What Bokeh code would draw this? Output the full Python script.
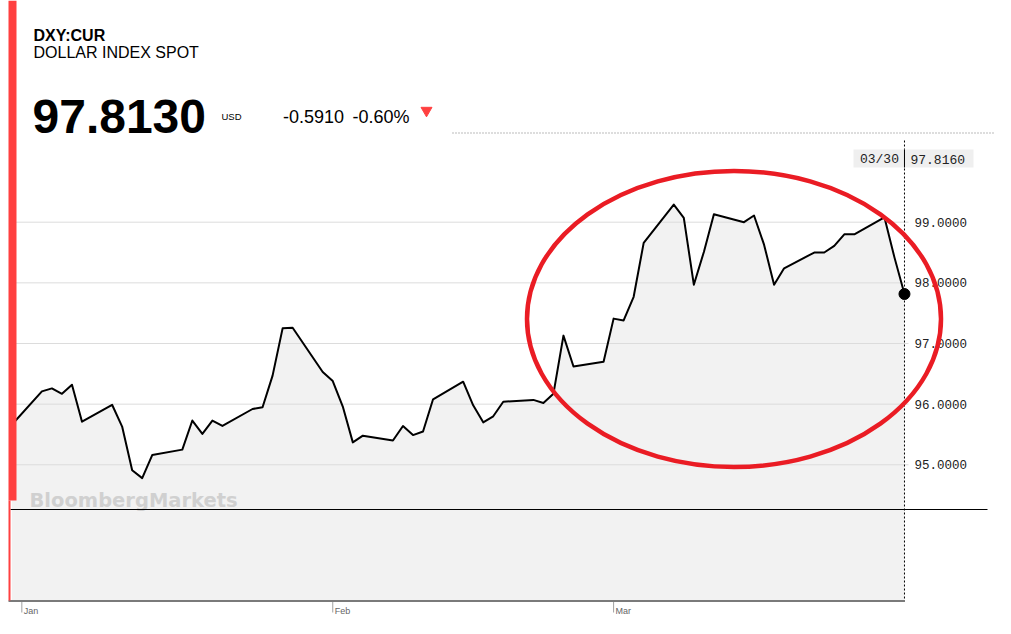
import numpy as np
import pandas as pd
from bokeh.plotting import figure
from bokeh.models import Range1d
from bokeh.core.properties import value
from bokeh.embed import file_html
from bokeh.resources import INLINE

# ---------------- data ----------------
DATES = [
    "2021-12-31",
    "2022-01-03", "2022-01-04", "2022-01-05", "2022-01-06", "2022-01-07",
    "2022-01-10", "2022-01-11", "2022-01-12", "2022-01-13", "2022-01-14",
    "2022-01-17", "2022-01-18", "2022-01-19", "2022-01-20", "2022-01-21",
    "2022-01-24", "2022-01-25", "2022-01-26", "2022-01-27", "2022-01-28",
    "2022-01-31", "2022-02-01", "2022-02-02", "2022-02-03", "2022-02-04",
    "2022-02-07", "2022-02-08", "2022-02-09", "2022-02-10", "2022-02-11",
    "2022-02-14", "2022-02-15", "2022-02-16", "2022-02-17", "2022-02-18",
    "2022-02-21", "2022-02-22", "2022-02-23", "2022-02-24", "2022-02-25",
    "2022-02-28", "2022-03-01", "2022-03-02", "2022-03-03", "2022-03-04",
    "2022-03-07", "2022-03-08", "2022-03-09", "2022-03-10", "2022-03-11",
    "2022-03-14", "2022-03-15", "2022-03-16", "2022-03-17", "2022-03-18",
    "2022-03-21", "2022-03-22", "2022-03-23", "2022-03-24", "2022-03-25",
    "2022-03-28", "2022-03-29", "2022-03-30",
]
VALUES = [
    95.66,
    96.21, 96.26, 96.17, 96.32, 95.71,
    95.99, 95.63, 94.91, 94.78, 95.16,
    95.25, 95.73, 95.51, 95.73, 95.64,
    95.92, 95.95, 96.47, 97.25, 97.26,
    96.53, 96.38, 95.96, 95.37, 95.48,
    95.40, 95.64, 95.49, 95.55, 96.08,
    96.37, 95.98, 95.70, 95.80, 96.04,
    96.07, 96.02, 96.17, 97.13, 96.62,
    96.70, 97.41, 97.38, 97.77, 98.66,
    99.29, 99.07, 97.97, 98.51, 99.13,
    99.00, 99.11, 98.63, 97.97, 98.24,
    98.50, 98.50, 98.61, 98.80, 98.80,
    99.08, 98.42, 97.816,
]
Y_TICKS = [95, 96, 97, 98, 99]
MONTH_TICKS = ["2022-01-01", "2022-02-01", "2022-03-01"]
MONTH_LABELS = ["Jan", "Feb", "Mar"]

SYMBOL = "DXY:CUR"
NAME = "DOLLAR INDEX SPOT"
PRICE = "97.8130"
CURRENCY = "USD"
CHANGE = "-0.5910"
CHANGE_PCT = "-0.60%"
WATERMARK = "BloombergMarkets"

# ---------------- layout (page pixels; canvas origin at page 0,0) ----------------
W, H = 995, 618
DAY_MS = 86400000.0
EPOCH = pd.Timestamp("1970-01-01")
ORIGIN = pd.Timestamp("2021-12-31")
ORIGIN_MS = (ORIGIN - EPOCH) / pd.Timedelta(milliseconds=1)
X0_PX, PX_PER_DAY = 11.3, 10.03
REF_VAL, REF_PX, PX_PER_UNIT = 99.0, 221.7, 60.65


def X(px):
    return ORIGIN_MS + (px - X0_PX) / PX_PER_DAY * DAY_MS


def Y(py):
    return REF_VAL - (py - REF_PX) / PX_PER_UNIT


def DX(px):
    return px / PX_PER_DAY * DAY_MS


def to_ms(dates):
    return list((pd.to_datetime(dates) - EPOCH) / pd.Timedelta(milliseconds=1))


xs = to_ms(DATES)
mts = to_ms(MONTH_TICKS)
x_last = xs[-1]
v_last = VALUES[-1]

RED = "#ff4040"
SANS = value("Liberation Sans")
MONO = value("Liberation Mono")

p = figure(
    width=W, height=H,
    x_range=Range1d(X(0), X(W)), y_range=Range1d(Y(H), Y(0)),
    output_backend="svg", toolbar_location=None, min_border=0,
    x_axis_type=None, y_axis_type=None, outline_line_color=None,
    background_fill_color="white", border_fill_color="white",
)

# area under the line
p.varea(x=xs, y1=Y(600.5), y2=VALUES, fill_color="#f2f2f2")

# gridlines
p.segment(x0=X(10), x1=X(908), y0=Y_TICKS, y1=Y_TICKS, line_color="#dcdcdc", line_width=1)

# watermark
p.text(x=[X(29)], y=[Y(500)], text=[WATERMARK], text_font=value("DejaVu Sans"),
       text_font_style="bold", text_font_size="19.5px", text_color="#d0d0d0",
       text_baseline="alphabetic", text_align="left")

# separator and bottom axis line
p.segment(x0=X(10), y0=Y(509), x1=X(987), y1=Y(509), line_color="black", line_width=1)
p.segment(x0=X(8), y0=Y(600.5), x1=X(904.5), y1=Y(600.5), line_color="#7a7a7a", line_width=2)

# month ticks + labels
p.segment(x0=mts, y0=Y(601.5), x1=mts, y1=Y(612), line_color="#a0a0a0", line_width=1)
p.text(x=[m + DX(2) for m in mts], y=Y(610.5), text=MONTH_LABELS, text_font=SANS,
       text_font_size="9px", text_color="#666666", text_baseline="alphabetic", text_align="left")

# top dotted rule
p.segment(x0=X(452), y0=Y(132.5), x1=X(W), y1=Y(132.5), line_color="#777777",
          line_width=1, line_dash="1 2")

# vertical dotted cursor line at last date
p.segment(x0=x_last, y0=Y(140), x1=x_last, y1=Y(600), line_color="black",
          line_width=1, line_dash="2 2")

# the series line
p.line(x=xs, y=VALUES, line_color="black", line_width=2, line_join="round")
p.scatter(x=[x_last], y=[v_last], size=11, color="black")

# right-hand value labels
p.text(x=X(914), y=Y_TICKS, text=[f"{t:.4f}" for t in Y_TICKS], text_font=MONO,
       text_font_size="12.5px", text_color="#222222", text_baseline="middle", text_align="left")

# last-value box
p.quad(left=X(853), right=X(973), top=Y(149), bottom=Y(167), fill_color="#efefef", line_color=None)
p.segment(x0=x_last, y0=Y(149), x1=x_last, y1=Y(167), line_color="black", line_width=1)
last_label = pd.Timestamp(DATES[-1]).strftime("%m/%d")
p.text(x=[x_last - DX(5.5)], y=[Y(158.5)], text=[last_label], text_font=MONO,
       text_font_size="13px", text_color="#222222", text_baseline="middle", text_align="right")
p.text(x=[x_last + DX(6)], y=[Y(158.5)], text=[f"{v_last:.4f}"], text_font=MONO,
       text_font_size="13px", text_color="#222222", text_baseline="middle", text_align="left")

# header
p.text(x=[X(33)], y=[Y(34.5)], text=[SYMBOL], text_font=SANS, text_font_style="bold",
       text_font_size="16px", text_color="black", text_baseline="alphabetic")
p.text(x=[X(33)], y=[Y(52)], text=[NAME], text_font=SANS,
       text_font_size="16px", text_color="black", text_baseline="alphabetic")
p.text(x=[X(32)], y=[Y(115.5)], text=[PRICE], text_font=SANS, text_font_style="bold",
       text_font_size="48px", text_color="black", text_baseline="alphabetic")
p.text(x=[X(221)], y=[Y(116.3)], text=[CURRENCY], text_font=SANS,
       text_font_size="9.5px", text_color="black", text_baseline="alphabetic")
p.text(x=[X(282.5)], y=[Y(116.3)], text=[CHANGE], text_font=SANS,
       text_font_size="18px", text_color="black", text_baseline="alphabetic")
p.text(x=[X(352)], y=[Y(116.3)], text=[CHANGE_PCT], text_font=SANS,
       text_font_size="18px", text_color="black", text_baseline="alphabetic")
p.scatter(x=[X(426)], y=[Y(110)], marker="inverted_triangle", size=11, color=RED)

# hand-drawn highlight ellipse
p.ellipse(x=[X(733.5)], y=[Y(318.5)], width=414, height=296, width_units="screen",
          height_units="screen", fill_color=None, line_color="#ea1c24", line_width=4.5)

# red side bar
p.quad(left=X(8), right=X(16), top=Y(0), bottom=Y(500), fill_color=RED, line_color=None)
p.quad(left=X(8), right=X(10), top=Y(500), bottom=Y(600), fill_color=RED, line_color=None)

open("out.html", "w").write(file_html(p, INLINE))
